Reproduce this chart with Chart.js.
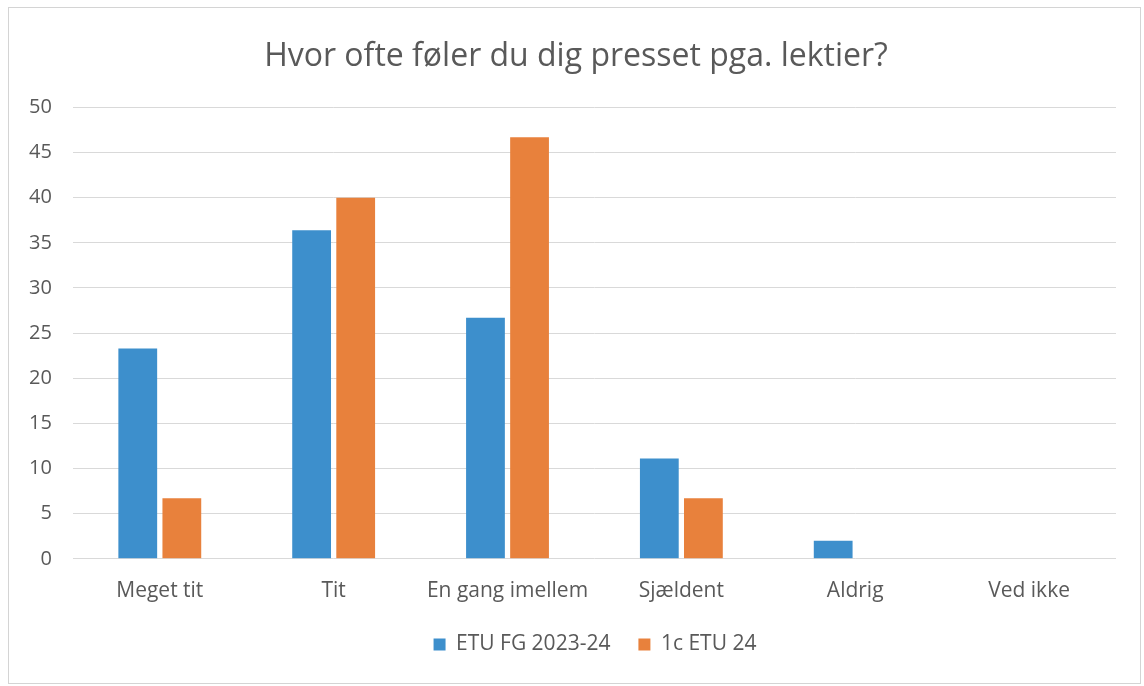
<!DOCTYPE html>
<html>
<head>
<meta charset="utf-8">
<script src="https://cdn.jsdelivr.net/npm/chart.js@4/dist/chart.umd.min.js"></script>
<style>
  html, body { margin: 0; padding: 0; background: #fff; }
  #wrap { width: 1144px; height: 686px; position: relative; }
</style>
</head>
<body>
<div id="wrap"><canvas id="c" width="1144" height="686"></canvas></div>
<script>
const categories = ["Meget tit", "Tit", "En gang imellem", "Sjældent", "Aldrig", "Ved ikke"];
const seriesNames = ["ETU FG 2023-24", "1c ETU 24"];
const etuFG = [23.3, 36.4, 26.7, 11.1, 2.0, 0];
const c1ETU = [6.7, 40.0, 46.7, 6.7, 0, 0];
const yTicks = [0, 5, 10, 15, 20, 25, 30, 35, 40, 45, 50];

const FONT = "'Open Sans', 'Liberation Sans', sans-serif";
const TXT = '#595959';

const framePlugin = {
  id: 'frame',
  beforeDraw(chart) {
    const ctx = chart.ctx;
    ctx.save();
    ctx.fillStyle = '#ffffff';
    ctx.fillRect(0, 0, chart.width, chart.height);
    ctx.strokeStyle = '#d4d4d4';
    ctx.lineWidth = 1;
    ctx.strokeRect(8.5, 7.5, 1132, 676);
    ctx.restore();
  }
};

// shift legend and title slightly right, as in the reference layout
const boxShift = {
  id: 'boxShift',
  afterLayout(chart) {
    const l = chart.legend;
    if (l) { l.left += 33; l.right += 33; }
    const t = chart.titleBlock;
    if (t) { t.left += 14; t.right += 14; }
  }
};

new Chart(document.getElementById('c'), {
  type: 'bar',
  data: {
    labels: categories,
    datasets: [
      { label: seriesNames[0], data: etuFG, backgroundColor: '#3d8fcc', borderWidth: 0 },
      { label: seriesNames[1], data: c1ETU, backgroundColor: '#e8813c', borderWidth: 0 }
    ]
  },
  options: {
    responsive: false,
    animation: false,
    devicePixelRatio: 1,
    layout: { padding: { left: 8, right: 28, top: 22, bottom: 21 } },
    datasets: { bar: { categoryPercentage: 0.507, barPercentage: 0.88 } },
    plugins: {
      title: {
        display: true,
        text: 'Hvor ofte føler du dig presset pga. lektier?',
        color: TXT,
        font: { family: FONT, size: 32, weight: 'normal' },
        padding: { top: 16, bottom: 31 }
      },
      legend: {
        position: 'bottom',
        labels: {
          color: TXT,
          font: { family: FONT, size: 21 },
          boxWidth: 12, boxHeight: 12,
          padding: 28
        }
      },
      tooltip: { enabled: false }
    },
    scales: {
      x: {
        grid: { display: false, drawTicks: false },
        border: { display: false },
        ticks: { color: TXT, font: { family: FONT, size: 21 }, padding: 20 },
        afterFit(scale) { scale.height -= 18; }
      },
      y: {
        min: 0, max: 50,
        afterBuildTicks(axis) { axis.ticks = yTicks.map(v => ({ value: v })); },
        grid: { color: '#d9d9d9', drawTicks: false },
        border: { display: false },
        ticks: { color: TXT, font: { family: FONT, size: 20 }, padding: 21 }
      }
    }
  },
  plugins: [framePlugin, boxShift]
});
</script>
</body>
</html>
